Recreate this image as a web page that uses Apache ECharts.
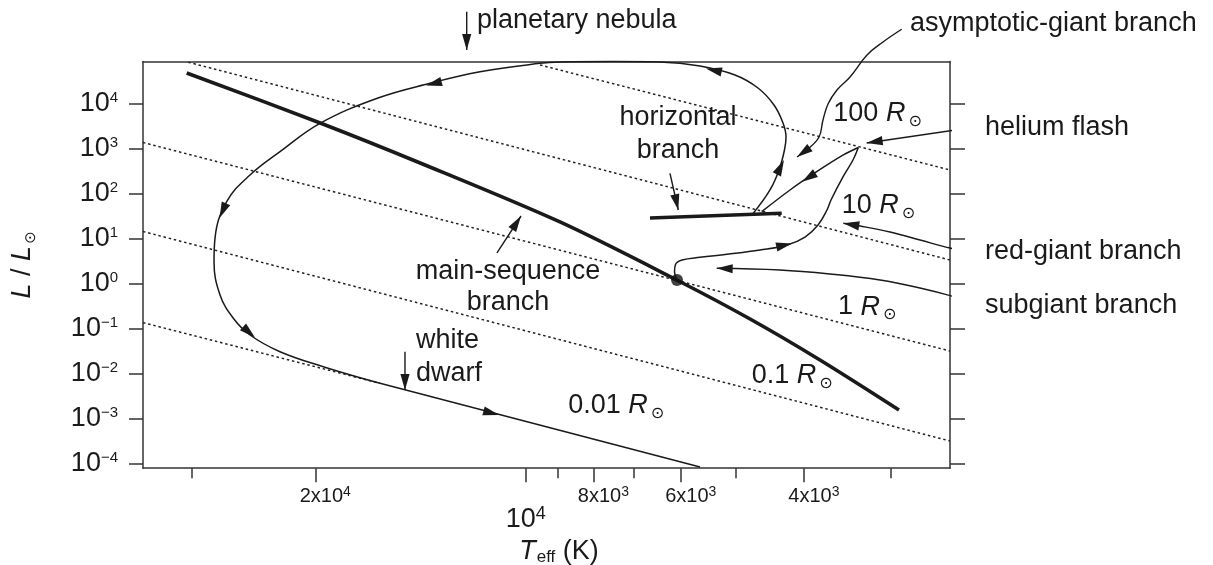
<!DOCTYPE html>
<html>
<head>
<meta charset="utf-8">
<script src="https://cdn.jsdelivr.net/npm/echarts@6/dist/echarts.min.js"></script>
<style>html,body{margin:0;padding:0;background:#fff}#c{width:1213px;height:565px}</style>
</head>
<body>
<div id="c"></div>
<script>
// ---------- DATA: x = log10(T_eff / K), y = log10(L / Lsun) ----------
const xMajorTicksK   = [20000, 10000, 8000, 6000, 4000];
const xTickMantissa  = ['2x10', '10', '8x10', '6x10', '4x10'];
const xTickExponent  = ['4', '4', '3', '3', '3'];
const xMinorTicksK   = [30000, 9000, 7000, 5000, 3000];
const yTickExponents = [-4, -3, -2, -1, 0, 1, 2, 3, 4];

const mainSequence = [[4.485,4.678],[4.294,3.567],[4.151,2.678],[3.951,1.367],[3.784,0.078],[3.679,-0.789],[3.579,-1.700],[3.466,-2.811]];
const horizontalBranch = [[3.8222,1.456],[3.6338,1.560]];
const sunLikeStar = [[3.7835,0.078]];

const subgiantRedGiant = [[3.7835,0.078],[3.7871,0.256],[3.7857,0.422],[3.7764,0.522],[3.7506,0.582],[3.7120,0.649],[3.6648,0.744],[3.6262,0.856],[3.6004,1.033],[3.5818,1.300],[3.5690,1.633],[3.5632,1.856],[3.5461,2.367],[3.5318,2.744],[3.5242,3.022]];
const flashToHorizontal = [[3.5242,3.022],[3.5456,2.856],[3.5837,2.484],[3.6219,2.078],[3.6624,1.596]];
const agbToWhiteDwarf = [[3.6744,1.560],[3.6505,2.078],[3.6376,2.522],[3.6298,2.967],[3.6276,3.256],[3.6319,3.567],[3.6448,3.967],[3.6677,4.344],[3.7006,4.633],[3.7506,4.833],[3.8079,4.922],[3.8751,4.933],[3.9509,4.922],[3.9795,4.893],[4.0654,4.707],[4.1369,4.449],[4.2113,4.122],[4.2943,3.560],[4.3515,2.929],[4.3944,2.411],[4.4278,1.818],[4.4445,1.004],[4.4459,0.484],[4.4373,-0.256],[4.4183,-0.773],[4.3944,-1.144],[4.3515,-1.516],[4.2896,-1.849],[4.2084,-2.218]];
const whiteDwarfCooling = [[4.2084,-2.218],[3.7506,-4.078]];

const radiusLabels = ['100', '10', '1', '0.1', '0.01'];
const radiusLineStart = [[3.9795,4.856],[4.4827,4.916],[4.5475,3.133],[4.5475,1.156],[4.5475,-0.869]];
const radiusLineEnd   = [[3.393,2.522],[3.393,0.522],[3.393,-1.5],[3.393,-3.5],[4.2084,-2.218]];
const radiusLabelAnchor = [[3.5599,3.769],[3.5479,1.731],[3.5532,-0.522],[3.6767,-2.047],[3.9391,-2.713]];

const annotationText = ['planetary nebula','asymptotic-giant branch','helium flash','red-giant branch','subgiant branch','horizontal\nbranch','main-sequence\nbranch','white\ndwarf'];
const annotationAnchor = [[4.0697,5.844],[3.4502,5.778],[3.3429,3.471],[3.3429,0.716],[3.3429,-0.491],[3.7821,3.322],[4.0253,-0.078],[4.1569,-1.640]];
const annotationAlign = ['left','left','left','left','left','center','center','left'];

const pointerPN  = [[4.0844,6.040],[4.0844,5.189]];
const pointerHB  = [[3.7936,2.449],[3.7817,1.633]];
const pointerMS  = [[4.0411,0.678],[4.0067,1.500]];
const pointerWD  = [[4.1727,-1.516],[4.1727,-2.367]];
const pointerHeF = [[3.3597,3.471],[3.5122,3.122]];
const pointerAGB = [[3.4621,5.649],[3.4888,5.367],[3.5117,5.078],[3.5360,4.589],[3.5547,4.300],[3.5675,3.989],[3.5747,3.633],[3.5804,3.256],[3.5961,2.989],[3.6119,2.811]];
const pointerRGB = [[3.3597,0.707],[3.3930,0.789],[3.4359,0.967],[3.4788,1.144],[3.5218,1.278],[3.5456,1.338]];
const pointerSGB = [[3.3597,-0.44],[3.3858,-0.3],[3.4359,-0.1],[3.4931,0.078],[3.5647,0.211],[3.6362,0.3],[3.7268,0.338]];

// arrowheads: [tail, tip]
const arrowTail = [[3.6505,0.782],[3.5456,2.856],[3.6376,2.522],[3.7006,4.633],[4.0654,4.707],[4.4278,1.818],[4.4183,-0.773],[4.2084,-2.218],
                   [4.0844,6.040],[3.7936,2.449],[4.0411,0.678],[4.1727,-1.516],[3.5961,2.989],[3.3597,3.471],[3.5218,1.278],[3.6362,0.3]];
const arrowTip  = [[3.6190,0.889],[3.6047,2.26],[3.6305,2.744],[3.7421,4.778],[4.1426,4.4],[4.438,1.456],[4.3873,-1.2],[4.0382,-2.922],
                   [4.0844,5.189],[3.7817,1.633],[4.0067,1.500],[4.1727,-2.367],[3.6119,2.811],[3.5122,3.122],[3.5456,1.338],[3.7268,0.338]];

// ---------- STYLE ----------
const INK = '#1a1a1a';
const AX = '#333';
const FONT = "'Liberation Sans', Arial, Helvetica, sans-serif";
const SUNFONT = "'DejaVu Sans', sans-serif";
const X_MIN = 3.393, X_MAX = 4.5475, Y_MIN = -4.104, Y_MAX = 4.933;

const lg = Math.log10;
const xMajor = xMajorTicksK.map(lg);
const xMinor = xMinorTicksK.map(lg);

function xLabel(v) {
  const i = xMajor.findIndex(t => Math.abs(t - v) < 1e-4);
  if (i < 0) return '';
  const m = xTickMantissa[i], e = xTickExponent[i];
  return m === '10' ? '{B|' + m + '}{BS|' + e + '}' : '{S|' + m + '}{SS|' + e + '}';
}
function yLabel(v) {
  const e = Math.round(v);
  return '{b|10}{s|' + (e < 0 ? '\u2212' + (-e) : e) + '}';
}

function line(data, width, smooth, extra) {
  return Object.assign({
    type: 'line', data: data, symbol: 'none', smooth: smooth, clip: false, silent: true,
    lineStyle: { color: INK, width: width }, z: 3
  }, extra || {});
}

const TEXT_RICH = {
  n: { fontSize: 27, fontFamily: FONT },
  r: { fontSize: 27, fontFamily: FONT, fontStyle: 'italic' },
  o: { fontSize: 16, fontFamily: SUNFONT, padding: [16, 0, 0, 3] }
};

const allTexts = annotationText.concat(radiusLabels.map(r => '{n|' + r + ' }{r|R}{o|\u2299}'));
const allAnchors = annotationAnchor.concat(radiusLabelAnchor);
const allAlign = annotationAlign.concat(radiusLabels.map(() => 'left'));

const series = [];
radiusLineStart.forEach((s, i) => {
  series.push({ type: 'line', data: [s, radiusLineEnd[i]], symbol: 'none', clip: false, silent: true,
    lineStyle: { color: '#222', width: 1.5, type: [2.5, 2.8] }, z: 1 });
});
series.push(line(mainSequence, 3.6, 0.3, { z: 2 }));
series.push(line(horizontalBranch, 3.6, false, { z: 2 }));
series.push(line(subgiantRedGiant, 1.5, 0.4));
series.push(line(flashToHorizontal, 1.5, 0.3));
series.push(line(agbToWhiteDwarf, 1.5, 0.4));
series.push(line(whiteDwarfCooling, 1.5, false));
[pointerPN, pointerHB, pointerMS, pointerWD, pointerHeF].forEach(p => series.push(line(p, 1.4, false)));
[pointerAGB, pointerRGB, pointerSGB].forEach(p => series.push(line(p, 1.4, 0.4)));
series.push({ type: 'scatter', data: sunLikeStar, symbol: 'circle', symbolSize: 12, clip: false, silent: true,
  itemStyle: { color: '#111' }, z: 4 });
series.push({
  type: 'custom', data: arrowTip, clip: false, silent: true, z: 5,
  renderItem: function (params, api) {
    const i = params.dataIndex;
    const a = api.coord(arrowTail[i]), b = api.coord(arrowTip[i]);
    const dx = b[0] - a[0], dy = b[1] - a[1], d = Math.hypot(dx, dy) || 1;
    const ux = dx / d, uy = dy / d, L = 16, W = 4.6;
    const bx = b[0] - ux * L, by = b[1] - uy * L;
    return { type: 'polygon', shape: { points: [b, [bx - uy * W, by + ux * W], [bx + uy * W, by - ux * W]] },
      style: { fill: INK } };
  }
});
series.push({
  type: 'custom', data: allAnchors, clip: false, silent: true, z: 6,
  renderItem: function (params, api) {
    const i = params.dataIndex;
    const p = api.coord(allAnchors[i]);
    const t = allTexts[i];
    const style = { text: t, fill: INK, fontSize: 27, fontFamily: FONT, align: allAlign[i], verticalAlign: 'middle', rich: TEXT_RICH };
    if (t.indexOf('\n') >= 0) style.lineHeight = (t.indexOf('main') === 0 ? 31 : 33);
    return { type: 'text', x: p[0], y: p[1], style: style };
  }
});

const tickStyle = { color: AX, width: 1.5 };
const option = {
  animation: false,
  backgroundColor: '#ffffff',
  grid: { left: 143, top: 61.5, width: 807, height: 406.7, outerBoundsMode: 'none' },
  xAxis: [
    { type: 'value', min: X_MIN, max: X_MAX, inverse: true, position: 'bottom',
      axisLine: { show: true, onZero: false, lineStyle: { color: AX, width: 1.5 } },
      axisTick: { show: true, inside: false, length: 14, customValues: xMajor, lineStyle: tickStyle },
      axisLabel: { show: true, margin: 17, customValues: xMajor, formatter: xLabel, color: INK,
        rich: {
          S:  { fontSize: 20, fontFamily: FONT, color: INK, padding: [0, 0, 0, 20] },
          SS: { fontSize: 14, fontFamily: FONT, color: INK, padding: [0, 0, 9, 0] },
          B:  { fontSize: 27, fontFamily: FONT, color: INK, padding: [21, 0, 0, 0] },
          BS: { fontSize: 18, fontFamily: FONT, color: INK, padding: [9, 0, 0, 0] }
        } },
      splitLine: { show: false },
      name: '{t|T}{e|eff}{k| (K)}', nameLocation: 'middle', nameGap: 66,
      nameTextStyle: { color: INK, rich: {
        t: { fontSize: 27, fontFamily: FONT, fontStyle: 'italic', color: INK, padding: [0, 0, 0, 25] },
        e: { fontSize: 17, fontFamily: FONT, color: INK, padding: [12, 0, 0, 1] },
        k: { fontSize: 27, fontFamily: FONT, color: INK }
      } } },
    { type: 'value', min: X_MIN, max: X_MAX, inverse: true, position: 'bottom',
      axisLine: { show: false, onZero: false },
      axisTick: { show: true, inside: false, length: 10, customValues: xMinor, lineStyle: tickStyle },
      axisLabel: { show: false }, splitLine: { show: false } },
    { type: 'value', min: X_MIN, max: X_MAX, inverse: true, position: 'top',
      axisLine: { show: true, onZero: false, lineStyle: { color: AX, width: 1.5 } },
      axisTick: { show: false }, axisLabel: { show: false }, splitLine: { show: false } }
  ],
  yAxis: [
    { type: 'value', min: Y_MIN, max: Y_MAX, position: 'left',
      axisLine: { show: true, onZero: false, lineStyle: { color: AX, width: 1.5 } },
      axisTick: { show: true, inside: false, length: 14, customValues: yTickExponents, lineStyle: tickStyle },
      axisLabel: { show: true, margin: 25, customValues: yTickExponents, formatter: yLabel, color: INK,
        rich: {
          b: { fontSize: 27, fontFamily: FONT, color: INK },
          s: { fontSize: 15, fontFamily: FONT, color: INK, padding: [0, 0, 12, 0] }
        } },
      splitLine: { show: false },
      name: '{i|L}{n| / }{i|L}{o|\u2299}', nameLocation: 'middle', nameGap: 104, nameRotate: 90,
      nameTextStyle: { color: INK, rich: {
        i: { fontSize: 27, fontFamily: FONT, fontStyle: 'italic', color: INK },
        n: { fontSize: 27, fontFamily: FONT, color: INK },
        o: { fontSize: 15, fontFamily: SUNFONT, color: INK, padding: [18, 0, 0, 2] }
      } } },
    { type: 'value', min: Y_MIN, max: Y_MAX, position: 'right',
      axisLine: { show: true, onZero: false, lineStyle: { color: AX, width: 1.5 } },
      axisTick: { show: true, inside: false, length: 15, customValues: yTickExponents, lineStyle: tickStyle },
      axisLabel: { show: false }, splitLine: { show: false } }
  ],
  series: series
};
const chart = echarts.init(document.getElementById('c'));
chart.setOption(option);
</script>
</body>
</html>
